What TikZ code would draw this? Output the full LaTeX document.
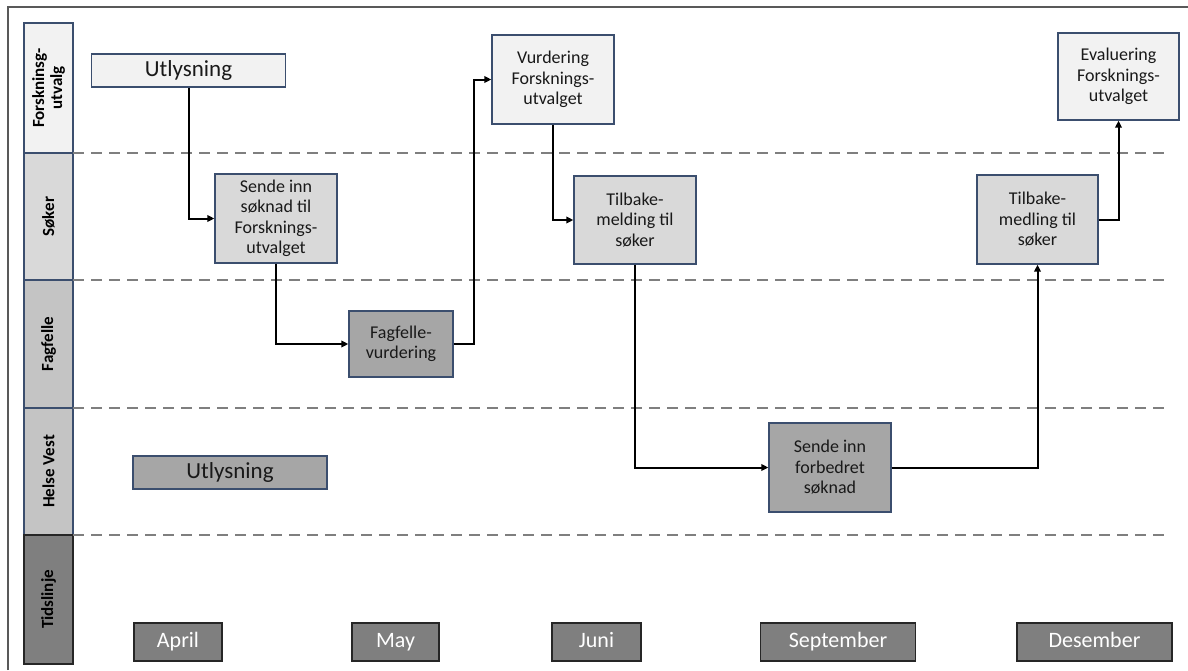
\documentclass[tikz,border=0pt]{standalone}
\usepackage{fontspec}
\setmainfont{Carlito}
\usepackage{tikz}
\usetikzlibrary{arrows.meta}
\definecolor{lightfill}{HTML}{F2F2F2}
\definecolor{midfill}{HTML}{D9D9D9}
\definecolor{lanefill}{HTML}{C4C4C4}
\definecolor{darkfill}{HTML}{A6A6A6}
\definecolor{monthfill}{HTML}{7F7F7F}
\definecolor{boxblue}{HTML}{3B4E6E}
\definecolor{laneline}{HTML}{7F7F7F}
\tikzset{
    lane-label/.style = {draw=boxblue, line width=1.3pt, rectangle, rotate=90, minimum height=49pt, inner sep=0pt, align=center, font=\fontsize{17}{18}\selectfont\bfseries},
    task-box/.style = {draw=boxblue, line width=1.3pt, rectangle, align=center, inner sep=2pt, text=black!90, font=\fontsize{18}{20.5}\selectfont},
    wide-box/.style = {task-box, font=\fontsize{23}{26}\selectfont, minimum width=194pt, minimum height=33pt, inner sep=0pt, text height=16pt, text depth=5pt},
    month-box/.style = {draw=black!85, line width=1.6pt, rectangle, fill=monthfill, text=white, font=\fontsize{22}{26}\selectfont, minimum height=38pt, inner sep=0pt, text height=15pt, text depth=5pt},
    lane-line/.style = {draw=laneline, line width=2.4pt, dash pattern=on 11pt off 7pt},
    flow-arrow/.style = {draw=black, line width=2pt, -{Triangle[length=7pt,width=6.5pt]}},
}
\begin{document}
\begin{tikzpicture}[x=1pt, y=-1pt]
\useasboundingbox (0,0) rectangle (1188,670);
\draw[black!65, line width=1.2pt] (8,670) -- (8,7) -- (1188,7);

\node[lane-label, fill=lightfill, minimum width=130pt] (lane-fu) at (48.5,88) {Forskninsg-\\utvalg};
\node[lane-label, fill=midfill, minimum width=127pt] (lane-sk) at (48.5,216.5) {Søker};
\node[lane-label, fill=lanefill, minimum width=128pt] (lane-ff) at (48.5,344) {Fagfelle};
\node[lane-label, fill=lanefill, minimum width=127pt] (lane-hv) at (48.5,471.5) {Helse Vest};
\node[lane-label, fill=monthfill, draw=black!85, minimum width=129pt] (lane-td) at (48.5,599.5) {Tidslinje};

\foreach \y in {153,280,408,535}
    \draw[lane-line] (73,\y) -- (1171,\y);

\node[wide-box, fill=lightfill] (utl-fu) at (188.5,70.5) {Utlysning};
\node[task-box, fill=midfill, minimum width=122pt, minimum height=89pt] (send-in) at (276,218.5) {Sende inn\\søknad til\\Forsknings-\\utvalget};
\node[task-box, fill=darkfill, minimum width=104pt, minimum height=66pt] (peer-review) at (401,344) {Fagfelle-\\vurdering};
\node[task-box, fill=lightfill, minimum width=122pt, minimum height=89pt] (assess-fu) at (553,79.5) {Vurdering\\Forsknings-\\utvalget};
\node[task-box, fill=midfill, minimum width=122pt, minimum height=88pt] (feedback-1) at (635,220) {Tilbake-\\melding til\\søker};
\node[task-box, fill=darkfill, minimum width=122pt, minimum height=89pt] (resubmit) at (830,467.5) {Sende inn\\forbedret\\søknad};
\node[task-box, fill=midfill, minimum width=121pt, minimum height=89pt] (feedback-2) at (1037.5,219.5) {Tilbake-\\medling til\\søker};
\node[task-box, fill=lightfill, minimum width=121pt, minimum height=87pt] (eval-fu) at (1118.5,76.5) {Evaluering\\Forsknings-\\utvalget};
\node[wide-box, fill=darkfill] (utl-hv) at (230,472.5) {Utlysning};

\node[month-box, minimum width=88pt] (m-april) at (178,642) {April};
\node[month-box, minimum width=87pt] (m-may) at (395.5,642) {May};
\node[month-box, minimum width=89pt] (m-juni) at (596.5,642) {Juni};
\node[month-box, minimum width=155pt] (m-sept) at (838,642) {September};
\node[month-box, minimum width=155pt] (m-des) at (1094.5,642) {Desember};

\draw[flow-arrow] (utl-fu.south) |- (send-in.west);
\draw[flow-arrow] (send-in.south) |- (peer-review.west);
\draw[flow-arrow] (peer-review.east) -- ++(20,0) |- (assess-fu.west);
\draw[flow-arrow] (assess-fu.south) |- (feedback-1.west);
\draw[flow-arrow] (feedback-1.south) |- (resubmit.west);
\draw[flow-arrow] (resubmit.east) -| (feedback-2.south);
\draw[flow-arrow] (feedback-2.east) -| (eval-fu.south);
\end{tikzpicture}
\end{document}
